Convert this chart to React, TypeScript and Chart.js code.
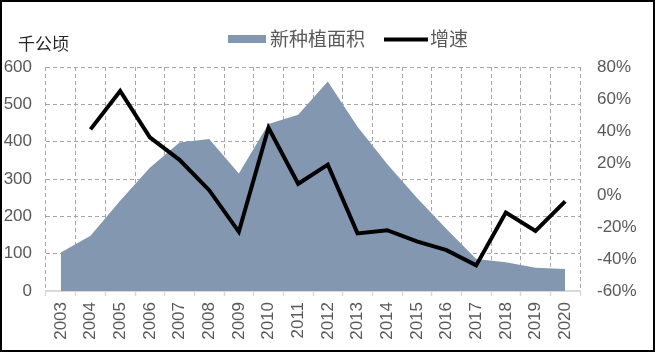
import React, { useEffect, useRef } from "react";
import { Chart, registerables } from "chart.js";

Chart.register(...registerables);

const years = ["2003","2004","2005","2006","2007","2008","2009","2010","2011","2012","2013","2014","2015","2016","2017","2018","2019","2020"];
const plantedArea = [103, 148, 242, 330, 398, 407, 315, 447, 472, 561, 440, 340, 250, 166, 86, 77, 62, 59];
const growthRate = [null, 41, 65, 36, 22, 3, -23, 42, 7, 19, -24, -22, -29, -34.5, -44, -11, -22.5, -4];
const unitLabel = "千公顷";
const areaLabel = "新种植面积";
const growthLabel = "增速";

const AREA_COLOR = "#8497B0";
const TICK_FONT = "'Liberation Sans', Arial, sans-serif";
const CJK_FONT = "'Noto Sans CJK SC', sans-serif";

const legendPlugin = {
  id: "customLegend",
  afterDraw(chart: any) {
    const ctx = chart.ctx;
    ctx.save();
    ctx.fillStyle = "#262626";
    ctx.font = `17px ${CJK_FONT}`;
    ctx.textBaseline = "middle";
    ctx.textAlign = "left";
    ctx.fillText(unitLabel, 18, 44);
    ctx.fillStyle = AREA_COLOR;
    ctx.fillRect(228, 35, 38, 8);
    ctx.fillStyle = "#595959";
    ctx.font = `19px ${CJK_FONT}`;
    ctx.fillText(areaLabel, 270, 39);
    ctx.strokeStyle = "#000";
    ctx.lineWidth = 4;
    ctx.beginPath();
    ctx.moveTo(384, 39.5);
    ctx.lineTo(428, 39.5);
    ctx.stroke();
    ctx.fillStyle = "#595959";
    ctx.fillText(growthLabel, 430, 39);
    ctx.restore();
  },
};

export default function App() {
  const ref = useRef<HTMLCanvasElement | null>(null);
  useEffect(() => {
    if (!ref.current) return;
    const chart = new Chart(ref.current, {
      type: "line",
      data: {
        labels: years,
        datasets: [
          {
            label: growthLabel,
            data: growthRate,
            yAxisID: "y1",
            borderColor: "#000",
            borderWidth: 4,
            pointRadius: 0,
            fill: false,
            tension: 0,
            order: 0,
          },
          {
            label: areaLabel,
            data: plantedArea,
            yAxisID: "y",
            borderWidth: 0,
            borderColor: AREA_COLOR,
            backgroundColor: AREA_COLOR,
            pointRadius: 0,
            fill: "origin",
            tension: 0,
            order: 1,
          },
        ],
      },
      options: {
        responsive: false,
        animation: false,
        devicePixelRatio: 1,
        layout: { padding: { top: 67, left: 0, right: 0, bottom: 0 } },
        plugins: { legend: { display: false }, tooltip: { enabled: false } },
        scales: {
          x: {
            offset: true,
            grid: {
              offset: true,
              color: "#A6A6A6",
              lineWidth: 1,
              tickLength: 5,
              tickColor: "#D9D9D9",
              tickWidth: 1.5,
            },
            border: { display: true, color: "#D9D9D9", width: 2, dash: [4, 3] },
            ticks: {
              minRotation: 90,
              maxRotation: 90,
              padding: 6,
              color: "#595959",
              font: { family: TICK_FONT, size: 17 },
            },
            afterFit: (s: any) => { s.height = 61; },
          },
          y: {
            position: "left",
            min: 0,
            max: 600,
            ticks: {
              stepSize: 100,
              padding: 14,
              color: "#595959",
              font: { family: TICK_FONT, size: 17 },
            },
            grid: { color: "#A6A6A6", lineWidth: 1, drawTicks: false },
            border: { display: false, dash: [4, 3] },
            afterFit: (s: any) => { s.width = 46; },
          },
          y1: {
            position: "right",
            min: -60,
            max: 80,
            ticks: {
              stepSize: 20,
              padding: 17,
              color: "#595959",
              font: { family: TICK_FONT, size: 17 },
              callback: (v: any) => `${v}%`,
            },
            grid: { drawOnChartArea: false, drawTicks: false },
            border: { display: false },
            afterFit: (s: any) => { s.width = 75; },
          },
        },
      },
      plugins: [legendPlugin],
    });
    return () => chart.destroy();
  }, []);

  return (
    <div style={{ position: "fixed", left: 0, top: 0, width: 655, height: 352, background: "#fff" }}>
      <canvas ref={ref} width={655} height={352} style={{ display: "block" }} />
      <div
        style={{
          position: "absolute",
          left: 0,
          top: 0,
          width: 655,
          height: 352,
          border: "2px solid #000",
          boxSizing: "border-box",
          pointerEvents: "none",
        }}
      />
    </div>
  );
}
